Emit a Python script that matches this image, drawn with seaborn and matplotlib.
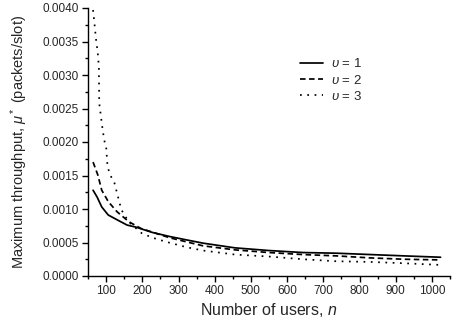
import numpy as np
import pandas as pd
import matplotlib
matplotlib.use("Agg")
import matplotlib.pyplot as plt
from matplotlib.ticker import MultipleLocator
import seaborn as sns

# --- data ---
n_v1 = [64, 75, 88, 106, 130, 158, 182, 205, 228, 275, 321, 368, 456, 550, 644, 737, 830, 924, 1024]
mu_v1 = [0.00128, 0.00118, 0.00103, 0.00091, 0.00084, 0.00076, 0.00073, 0.00069, 0.00065,
         0.00059, 0.00054, 0.00049, 0.00042, 0.00038, 0.00035, 0.00034, 0.00032, 0.00030, 0.00028]

n_v2 = [64, 77, 88, 106, 130, 163, 196, 276, 368, 456, 550, 644, 737, 830, 924, 1024]
mu_v2 = [0.00170, 0.00151, 0.00128, 0.00111, 0.00096, 0.00081, 0.00071, 0.00057, 0.00045,
         0.00039, 0.00035, 0.00032, 0.00030, 0.00027, 0.00025, 0.00024]

n_v3 = [64, 68, 72, 77, 80, 81, 86, 91, 96, 100, 104, 112, 123, 142, 162, 198, 229, 266,
        322, 368, 456, 551, 644, 736, 831, 924, 1024]
mu_v3 = [0.00397, 0.00376, 0.00354, 0.00333, 0.00312, 0.00258, 0.00237, 0.00216, 0.00200,
         0.00194, 0.00163, 0.00150, 0.00139, 0.00099, 0.00081, 0.00064, 0.00057, 0.00051,
         0.00043, 0.00038, 0.00032, 0.00029, 0.00025, 0.00022, 0.00021, 0.00019, 0.000165]

labels = [r"$\upsilon$ = 1", r"$\upsilon$ = 2", r"$\upsilon$ = 3"]

df = pd.concat([
    pd.DataFrame({"n": n_v1, "mu": mu_v1, "series": labels[0]}),
    pd.DataFrame({"n": n_v2, "mu": mu_v2, "series": labels[1]}),
    pd.DataFrame({"n": n_v3, "mu": mu_v3, "series": labels[2]}),
], ignore_index=True)

sns.set_style("ticks")
plt.rcParams["font.family"] = ["Liberation Sans", "DejaVu Sans"]
plt.rcParams["mathtext.fontset"] = "custom"
plt.rcParams["mathtext.rm"] = "Liberation Sans"
plt.rcParams["mathtext.it"] = "Liberation Sans:italic"
plt.rcParams["mathtext.bf"] = "Liberation Sans:bold"

fig = plt.figure(figsize=(4.57, 3.25), dpi=100)
ax = fig.add_axes([88 / 457, 1 - 276 / 325, (450 - 88) / 457, (276 - 8) / 325])

sns.lineplot(data=df, x="n", y="mu", hue="series", style="series",
             hue_order=labels, style_order=labels,
             palette=["black"] * 3,
             dashes=["", (3.2, 2.0), (1, 3.2)],
             linewidth=1.25, ax=ax, sort=False)

ax.set_xlim(50, 1050)
ax.set_ylim(0, 0.0040)
ax.xaxis.set_major_locator(MultipleLocator(100))
ax.xaxis.set_minor_locator(MultipleLocator(50))
ax.yaxis.set_major_locator(MultipleLocator(0.0005))
ax.yaxis.set_minor_locator(MultipleLocator(0.00025))
ax.set_xticks(range(100, 1001, 100))
ax.yaxis.set_major_formatter(matplotlib.ticker.FormatStrFormatter("%.4f"))
ax.tick_params(axis="both", which="major", direction="out", length=4, width=1,
               labelsize=8.5, pad=2.5, color="black")
ax.tick_params(axis="both", which="minor", direction="out", length=2.5, width=1, color="black")
for s in ["left", "bottom"]:
    ax.spines[s].set_color("black")
    ax.spines[s].set_linewidth(1)
sns.despine(ax=ax)

ax.set_xlabel("Number of users, $n$", fontsize=11.5, labelpad=3)
ax.set_ylabel(r"Maximum throughput, $\mu^*$ (packets/slot)", fontsize=10.5, labelpad=9)

sns.move_legend(ax, "upper left", bbox_to_anchor=((291 - 88) / 362, 1 - (48 - 8) / 268),
                frameon=False, title=None, fontsize=9.5, handlelength=1.75,
                handletextpad=0.55, labelspacing=0.25, borderpad=0.2)

fig.savefig("out.png", dpi=100)
